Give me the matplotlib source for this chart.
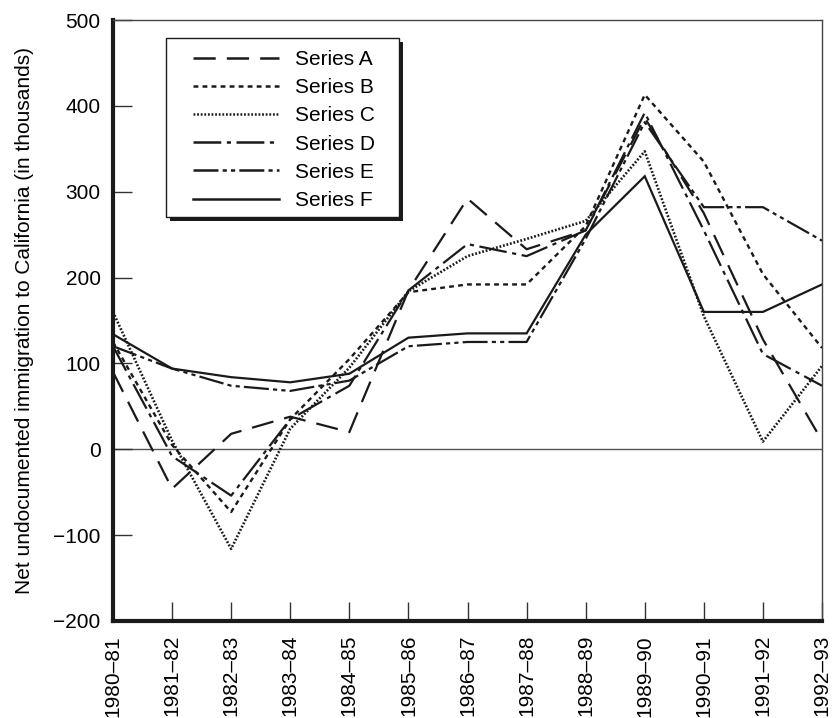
import matplotlib
matplotlib.use("Agg")
import matplotlib.pyplot as plt
from matplotlib.patches import Rectangle
import numpy as np

plt.rcParams['font.family'] = ['Liberation Sans', 'DejaVu Sans']
plt.rcParams['lines.scale_dashes'] = False

periods = ["1980–81", "1981–82", "1982–83", "1983–84", "1984–85", "1985–86",
           "1986–87", "1987–88", "1988–89", "1989–90", "1990–91", "1991–92", "1992–93"]

series_a = [90, -46, 18, 38, 20, 185, 292, 233, 255, 386, 275, 128, 10]
series_b = [125, 5, -73, 35, 105, 183, 192, 192, 260, 413, 335, 204, 118]
series_c = [160, 10, -116, 24, 95, 184, 225, 245, 266, 347, 155, 9, 97]
series_d = [120, -8, -54, 35, 74, 185, 239, 225, 255, 392, 255, 111, 74]
series_e = [120, 94, 74, 68, 80, 120, 125, 125, 245, 381, 282, 282, 243]
series_f = [134, 94, 84, 78, 88, 130, 135, 135, 250, 318, 160, 160, 192]

labels = ["Series A", "Series B", "Series C", "Series D", "Series E", "Series F"]
values = [series_a, series_b, series_c, series_d, series_e, series_f]
dashes = [(16, 8), (3.5, 3), (1.3, 1.3), (20, 4, 3, 4), (18, 3, 3, 3, 3, 3), None]
widths = [1.6, 1.7, 1.9, 1.6, 1.6, 1.6]

W, H = 838, 718
fig = plt.figure(figsize=(W / 100, H / 100), dpi=100)
ax = fig.add_axes([113 / W, 1 - 621 / H, (822 - 113) / W, (621 - 20) / H])

x = np.arange(len(periods))
ax.axhline(0, color='#555555', lw=1.0, zorder=1)
for lab, vals, d, w in zip(labels, values, dashes, widths):
    line, = ax.plot(x, vals, color='#1a1a1a', lw=w, label=lab, zorder=3)
    if d is not None:
        line.set_dashes(d)
    line.set_solid_joinstyle('miter')

ax.set_xlim(0, 12)
ax.set_ylim(-200, 500)
ax.set_xticks(x)
ax.set_xticklabels(periods, rotation=90, fontsize=15)
ax.set_yticks(np.arange(-200, 501, 100))
ax.set_yticklabels(["−200", "−100", "0", "100", "200", "300", "400", "500"], fontsize=15)
ax.tick_params(axis='both', direction='in', length=14, width=1.0, color='#333333')
ax.tick_params(axis='x', pad=10)
ax.tick_params(axis='y', pad=9)

for s in ['left', 'bottom']:
    ax.spines[s].set_linewidth(3.0)
    ax.spines[s].set_color('#1a1a1a')
for s in ['top', 'right']:
    ax.spines[s].set_linewidth(1.0)
    ax.spines[s].set_color('#444444')

ax.set_ylabel("Net undocumented immigration to California (in thousands)", fontsize=15, labelpad=14)

# legend frame with shadow (pixel geometry converted to axes fraction)
def ax_frac(px, py):
    return ((px - 113) / (822 - 113), (621 - py) / (621 - 20))

x0, y0 = ax_frac(166, 217)
x1, y1 = ax_frac(399, 38)
sx, sy = ax_frac(170, 221)
ax.add_patch(Rectangle((sx, sy), x1 - x0, y1 - y0, transform=ax.transAxes,
                       facecolor='#1a1a1a', edgecolor='none', zorder=5, clip_on=False))
ax.add_patch(Rectangle((x0, y0), x1 - x0, y1 - y0, transform=ax.transAxes,
                       facecolor='white', edgecolor='#1a1a1a', lw=1.0, zorder=6, clip_on=False))

lx, ly = ax_frac(193, 50)
leg = ax.legend(loc='upper left', bbox_to_anchor=(lx, ly), fontsize=15,
                handlelength=4.15, labelspacing=0.44, handletextpad=0.75,
                borderpad=0, borderaxespad=0, frameon=False)
leg.set_zorder(7)
for h in leg.get_lines():
    h.set_linewidth(1.8)

fig.savefig("out.png", dpi=100)
